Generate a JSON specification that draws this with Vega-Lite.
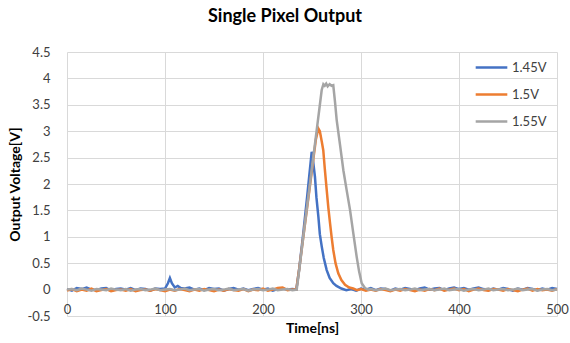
{
"$schema": "https://vega.github.io/schema/vega-lite/v6.json",
"width": 490, "height": 264,
"autosize": {"type": "none"},
"padding": {"left": 67, "top": 52, "right": 13, "bottom": 27},
"config": {"view": {"stroke": null}, "font": "Lato",
  "axis": {"gridColor": "#D9D9D9", "gridWidth": 1, "domain": false, "ticks": false, "labelColor": "#404040", "labelFontSize": 13, "titleFontSize": 14, "titleFontWeight": "bold", "titleColor": "#000000", "labelFont": "Lato", "titleFont": "Lato"}},
"title": {"text": "Single Pixel Output", "fontSize": 18, "fontWeight": "bold", "font": "Lato", "anchor": "middle", "dx": -27, "offset": 20, "color": "#000000"},
"data": {"values": [
{"s":"1.45V","t":0,"v":0.01},{"s":"1.45V","t":5,"v":-0.02},{"s":"1.45V","t":10,"v":0.03},{"s":"1.45V","t":15,"v":0.01},{"s":"1.45V","t":20,"v":0.04},{"s":"1.45V","t":25,"v":0.0},{"s":"1.45V","t":30,"v":-0.01},{"s":"1.45V","t":35,"v":0.02},{"s":"1.45V","t":40,"v":0.03},{"s":"1.45V","t":45,"v":-0.02},{"s":"1.45V","t":50,"v":0.01},{"s":"1.45V","t":55,"v":0.02},{"s":"1.45V","t":60,"v":0.0},{"s":"1.45V","t":65,"v":0.03},{"s":"1.45V","t":70,"v":-0.01},{"s":"1.45V","t":75,"v":0.02},{"s":"1.45V","t":80,"v":0.01},{"s":"1.45V","t":85,"v":-0.02},{"s":"1.45V","t":90,"v":0.02},{"s":"1.45V","t":95,"v":0.01},{"s":"1.45V","t":100,"v":0.02},{"s":"1.45V","t":103,"v":0.12},{"s":"1.45V","t":105,"v":0.22},{"s":"1.45V","t":107,"v":0.12},{"s":"1.45V","t":110,"v":0.04},{"s":"1.45V","t":113,"v":0.07},{"s":"1.45V","t":116,"v":0.03},{"s":"1.45V","t":120,"v":0.02},{"s":"1.45V","t":125,"v":0.04},{"s":"1.45V","t":130,"v":0.0},{"s":"1.45V","t":135,"v":0.02},{"s":"1.45V","t":140,"v":-0.01},{"s":"1.45V","t":145,"v":0.03},{"s":"1.45V","t":150,"v":0.01},{"s":"1.45V","t":155,"v":0.02},{"s":"1.45V","t":160,"v":-0.02},{"s":"1.45V","t":165,"v":0.01},{"s":"1.45V","t":170,"v":0.03},{"s":"1.45V","t":175,"v":0.0},{"s":"1.45V","t":180,"v":0.02},{"s":"1.45V","t":185,"v":-0.01},{"s":"1.45V","t":190,"v":0.01},{"s":"1.45V","t":195,"v":0.03},{"s":"1.45V","t":200,"v":0.0},{"s":"1.45V","t":205,"v":0.02},{"s":"1.45V","t":210,"v":-0.02},{"s":"1.45V","t":215,"v":0.01},{"s":"1.45V","t":220,"v":0.02},{"s":"1.45V","t":225,"v":0.0},{"s":"1.45V","t":230,"v":0.01},{"s":"1.45V","t":234,"v":0.0},
{"s":"1.45V","t":237,"v":0.4},{"s":"1.45V","t":241,"v":1.05},{"s":"1.45V","t":245,"v":1.75},{"s":"1.45V","t":248,"v":2.3},{"s":"1.45V","t":249.7,"v":2.61},{"s":"1.45V","t":251,"v":2.45},{"s":"1.45V","t":253,"v":2.14},{"s":"1.45V","t":254.5,"v":1.75},{"s":"1.45V","t":256.5,"v":1.38},{"s":"1.45V","t":258,"v":1.05},{"s":"1.45V","t":260,"v":0.81},{"s":"1.45V","t":262,"v":0.6},{"s":"1.45V","t":265,"v":0.37},{"s":"1.45V","t":268,"v":0.22},{"s":"1.45V","t":271.7,"v":0.12},{"s":"1.45V","t":275,"v":0.07},{"s":"1.45V","t":280,"v":0.02},{"s":"1.45V","t":285,"v":-0.01},{"s":"1.45V","t":290,"v":0.01},{"s":"1.45V","t":295,"v":-0.02},{"s":"1.45V","t":300,"v":0.02},
{"s":"1.45V","t":305,"v":0.0},{"s":"1.45V","t":310,"v":0.03},{"s":"1.45V","t":315,"v":-0.01},{"s":"1.45V","t":320,"v":0.02},{"s":"1.45V","t":325,"v":0.01},{"s":"1.45V","t":330,"v":-0.02},{"s":"1.45V","t":335,"v":0.02},{"s":"1.45V","t":340,"v":0.0},{"s":"1.45V","t":345,"v":0.03},{"s":"1.45V","t":350,"v":0.01},{"s":"1.45V","t":355,"v":-0.01},{"s":"1.45V","t":360,"v":0.02},{"s":"1.45V","t":365,"v":0.04},{"s":"1.45V","t":370,"v":0.0},{"s":"1.45V","t":375,"v":0.02},{"s":"1.45V","t":380,"v":0.03},{"s":"1.45V","t":385,"v":-0.01},{"s":"1.45V","t":390,"v":0.02},{"s":"1.45V","t":395,"v":0.04},{"s":"1.45V","t":400,"v":0.01},{"s":"1.45V","t":405,"v":0.03},{"s":"1.45V","t":410,"v":0.0},{"s":"1.45V","t":415,"v":0.02},{"s":"1.45V","t":420,"v":0.04},{"s":"1.45V","t":425,"v":0.01},{"s":"1.45V","t":430,"v":-0.01},{"s":"1.45V","t":435,"v":0.02},{"s":"1.45V","t":440,"v":0.0},{"s":"1.45V","t":445,"v":0.03},{"s":"1.45V","t":450,"v":0.01},{"s":"1.45V","t":455,"v":-0.02},{"s":"1.45V","t":460,"v":0.02},{"s":"1.45V","t":465,"v":0.0},{"s":"1.45V","t":470,"v":0.03},{"s":"1.45V","t":475,"v":0.01},{"s":"1.45V","t":480,"v":-0.01},{"s":"1.45V","t":485,"v":0.02},{"s":"1.45V","t":490,"v":0.0},{"s":"1.45V","t":495,"v":0.03},{"s":"1.45V","t":500,"v":0.01},
{"s":"1.5V","t":0,"v":-0.02},{"s":"1.5V","t":5,"v":0.01},{"s":"1.5V","t":10,"v":-0.03},{"s":"1.5V","t":15,"v":0.0},{"s":"1.5V","t":20,"v":-0.02},{"s":"1.5V","t":25,"v":0.02},{"s":"1.5V","t":30,"v":-0.03},{"s":"1.5V","t":35,"v":-0.01},{"s":"1.5V","t":40,"v":0.01},{"s":"1.5V","t":45,"v":-0.03},{"s":"1.5V","t":50,"v":-0.01},{"s":"1.5V","t":55,"v":0.0},{"s":"1.5V","t":60,"v":-0.02},{"s":"1.5V","t":65,"v":0.01},{"s":"1.5V","t":70,"v":-0.03},{"s":"1.5V","t":75,"v":-0.01},{"s":"1.5V","t":80,"v":0.0},{"s":"1.5V","t":85,"v":-0.02},{"s":"1.5V","t":90,"v":0.01},{"s":"1.5V","t":95,"v":-0.01},{"s":"1.5V","t":100,"v":-0.03},{"s":"1.5V","t":105,"v":0.0},{"s":"1.5V","t":110,"v":-0.02},{"s":"1.5V","t":115,"v":0.01},{"s":"1.5V","t":120,"v":-0.01},{"s":"1.5V","t":125,"v":-0.03},{"s":"1.5V","t":130,"v":0.0},{"s":"1.5V","t":135,"v":-0.02},{"s":"1.5V","t":140,"v":0.01},{"s":"1.5V","t":145,"v":-0.01},{"s":"1.5V","t":150,"v":-0.03},{"s":"1.5V","t":155,"v":0.0},{"s":"1.5V","t":160,"v":-0.02},{"s":"1.5V","t":165,"v":0.01},{"s":"1.5V","t":170,"v":-0.01},{"s":"1.5V","t":175,"v":-0.02},{"s":"1.5V","t":180,"v":0.01},{"s":"1.5V","t":185,"v":-0.03},{"s":"1.5V","t":190,"v":0.0},{"s":"1.5V","t":195,"v":-0.01},{"s":"1.5V","t":200,"v":0.02},{"s":"1.5V","t":205,"v":-0.02},{"s":"1.5V","t":210,"v":0.0},{"s":"1.5V","t":215,"v":0.03},{"s":"1.5V","t":220,"v":0.04},{"s":"1.5V","t":225,"v":-0.01},{"s":"1.5V","t":230,"v":0.0},{"s":"1.5V","t":234,"v":0.0},
{"s":"1.5V","t":237,"v":0.4},{"s":"1.5V","t":241,"v":0.98},{"s":"1.5V","t":245,"v":1.55},{"s":"1.5V","t":248,"v":1.98},{"s":"1.5V","t":251,"v":2.42},{"s":"1.5V","t":254,"v":2.85},{"s":"1.5V","t":256.5,"v":3.05},{"s":"1.5V","t":258,"v":3.0},{"s":"1.5V","t":260,"v":2.8},{"s":"1.5V","t":261.5,"v":2.64},{"s":"1.5V","t":263,"v":2.3},{"s":"1.5V","t":265,"v":1.89},{"s":"1.5V","t":266.7,"v":1.55},{"s":"1.5V","t":268.4,"v":1.26},{"s":"1.5V","t":270,"v":1.0},{"s":"1.5V","t":271.7,"v":0.75},{"s":"1.5V","t":274,"v":0.5},{"s":"1.5V","t":276.8,"v":0.31},{"s":"1.5V","t":280,"v":0.18},{"s":"1.5V","t":283.7,"v":0.09},{"s":"1.5V","t":288,"v":0.04},{"s":"1.5V","t":292,"v":0.02},{"s":"1.5V","t":296,"v":-0.01},{"s":"1.5V","t":300,"v":0.01},{"s":"1.5V","t":305,"v":-0.02},
{"s":"1.5V","t":310,"v":0.0},{"s":"1.5V","t":315,"v":-0.02},{"s":"1.5V","t":320,"v":0.01},{"s":"1.5V","t":325,"v":-0.01},{"s":"1.5V","t":330,"v":-0.03},{"s":"1.5V","t":335,"v":0.0},{"s":"1.5V","t":340,"v":-0.02},{"s":"1.5V","t":345,"v":0.01},{"s":"1.5V","t":350,"v":-0.01},{"s":"1.5V","t":355,"v":-0.03},{"s":"1.5V","t":360,"v":0.0},{"s":"1.5V","t":365,"v":-0.02},{"s":"1.5V","t":370,"v":0.01},{"s":"1.5V","t":375,"v":-0.01},{"s":"1.5V","t":380,"v":0.02},{"s":"1.5V","t":385,"v":-0.02},{"s":"1.5V","t":390,"v":0.0},{"s":"1.5V","t":395,"v":0.02},{"s":"1.5V","t":400,"v":-0.01},{"s":"1.5V","t":405,"v":0.01},{"s":"1.5V","t":410,"v":-0.03},{"s":"1.5V","t":415,"v":0.0},{"s":"1.5V","t":420,"v":0.02},{"s":"1.5V","t":425,"v":-0.01},{"s":"1.5V","t":430,"v":-0.02},{"s":"1.5V","t":435,"v":0.01},{"s":"1.5V","t":440,"v":0.0},{"s":"1.5V","t":445,"v":-0.02},{"s":"1.5V","t":450,"v":0.01},{"s":"1.5V","t":455,"v":-0.01},{"s":"1.5V","t":460,"v":-0.03},{"s":"1.5V","t":465,"v":0.0},{"s":"1.5V","t":470,"v":0.02},{"s":"1.5V","t":475,"v":-0.02},{"s":"1.5V","t":480,"v":0.01},{"s":"1.5V","t":485,"v":-0.01},{"s":"1.5V","t":490,"v":0.0},{"s":"1.5V","t":495,"v":-0.02},{"s":"1.5V","t":500,"v":0.01},
{"s":"1.55V","t":0,"v":0.0},{"s":"1.55V","t":5,"v":0.01},{"s":"1.55V","t":10,"v":-0.01},{"s":"1.55V","t":15,"v":0.02},{"s":"1.55V","t":20,"v":0.0},{"s":"1.55V","t":25,"v":-0.02},{"s":"1.55V","t":30,"v":0.01},{"s":"1.55V","t":35,"v":0.0},{"s":"1.55V","t":40,"v":-0.01},{"s":"1.55V","t":45,"v":0.02},{"s":"1.55V","t":50,"v":0.0},{"s":"1.55V","t":55,"v":-0.01},{"s":"1.55V","t":60,"v":0.01},{"s":"1.55V","t":65,"v":-0.02},{"s":"1.55V","t":70,"v":0.0},{"s":"1.55V","t":75,"v":0.01},{"s":"1.55V","t":80,"v":-0.01},{"s":"1.55V","t":85,"v":0.0},{"s":"1.55V","t":90,"v":0.02},{"s":"1.55V","t":95,"v":-0.01},{"s":"1.55V","t":100,"v":0.0},{"s":"1.55V","t":105,"v":0.01},{"s":"1.55V","t":110,"v":-0.01},{"s":"1.55V","t":115,"v":0.0},{"s":"1.55V","t":120,"v":0.02},{"s":"1.55V","t":125,"v":-0.01},{"s":"1.55V","t":130,"v":0.0},{"s":"1.55V","t":135,"v":0.01},{"s":"1.55V","t":140,"v":-0.02},{"s":"1.55V","t":145,"v":0.0},{"s":"1.55V","t":150,"v":0.01},{"s":"1.55V","t":155,"v":-0.01},{"s":"1.55V","t":160,"v":0.0},{"s":"1.55V","t":165,"v":0.02},{"s":"1.55V","t":170,"v":-0.01},{"s":"1.55V","t":175,"v":0.0},{"s":"1.55V","t":180,"v":0.01},{"s":"1.55V","t":185,"v":-0.02},{"s":"1.55V","t":190,"v":0.0},{"s":"1.55V","t":195,"v":0.01},{"s":"1.55V","t":200,"v":-0.01},{"s":"1.55V","t":205,"v":0.0},{"s":"1.55V","t":210,"v":0.02},{"s":"1.55V","t":215,"v":-0.01},{"s":"1.55V","t":220,"v":0.0},{"s":"1.55V","t":225,"v":0.01},{"s":"1.55V","t":230,"v":-0.01},{"s":"1.55V","t":234.4,"v":0.0},
{"s":"1.55V","t":237,"v":0.38},{"s":"1.55V","t":241.1,"v":1.0},{"s":"1.55V","t":244.5,"v":1.5},{"s":"1.55V","t":248,"v":2.01},{"s":"1.55V","t":251.4,"v":2.52},{"s":"1.55V","t":254.8,"v":3.02},{"s":"1.55V","t":257.5,"v":3.42},{"s":"1.55V","t":259.9,"v":3.78},{"s":"1.55V","t":261.6,"v":3.89},{"s":"1.55V","t":263,"v":3.86},{"s":"1.55V","t":264.5,"v":3.9},{"s":"1.55V","t":266,"v":3.85},{"s":"1.55V","t":268,"v":3.89},{"s":"1.55V","t":270,"v":3.86},{"s":"1.55V","t":271.7,"v":3.87},{"s":"1.55V","t":273.5,"v":3.55},{"s":"1.55V","t":275.2,"v":3.21},{"s":"1.55V","t":278.6,"v":2.74},{"s":"1.55V","t":282,"v":2.26},{"s":"1.55V","t":285.4,"v":1.88},{"s":"1.55V","t":288.8,"v":1.51},{"s":"1.55V","t":292.2,"v":1.06},{"s":"1.55V","t":295.6,"v":0.62},{"s":"1.55V","t":298,"v":0.35},{"s":"1.55V","t":300.7,"v":0.12},{"s":"1.55V","t":304,"v":0.03},{"s":"1.55V","t":307.5,"v":0.0},
{"s":"1.55V","t":310,"v":0.01},{"s":"1.55V","t":315,"v":-0.01},{"s":"1.55V","t":320,"v":0.0},{"s":"1.55V","t":325,"v":0.02},{"s":"1.55V","t":330,"v":-0.01},{"s":"1.55V","t":335,"v":0.0},{"s":"1.55V","t":340,"v":0.01},{"s":"1.55V","t":345,"v":-0.01},{"s":"1.55V","t":350,"v":0.0},{"s":"1.55V","t":355,"v":0.02},{"s":"1.55V","t":360,"v":-0.01},{"s":"1.55V","t":365,"v":0.0},{"s":"1.55V","t":370,"v":0.01},{"s":"1.55V","t":375,"v":-0.01},{"s":"1.55V","t":380,"v":0.0},{"s":"1.55V","t":385,"v":0.02},{"s":"1.55V","t":390,"v":-0.01},{"s":"1.55V","t":395,"v":0.0},{"s":"1.55V","t":400,"v":0.01},{"s":"1.55V","t":405,"v":-0.02},{"s":"1.55V","t":410,"v":0.0},{"s":"1.55V","t":415,"v":0.01},{"s":"1.55V","t":420,"v":-0.01},{"s":"1.55V","t":425,"v":0.0},{"s":"1.55V","t":430,"v":0.02},{"s":"1.55V","t":435,"v":-0.01},{"s":"1.55V","t":440,"v":0.0},{"s":"1.55V","t":445,"v":0.01},{"s":"1.55V","t":450,"v":-0.01},{"s":"1.55V","t":455,"v":0.0},{"s":"1.55V","t":460,"v":0.02},{"s":"1.55V","t":465,"v":-0.01},{"s":"1.55V","t":470,"v":0.0},{"s":"1.55V","t":475,"v":0.01},{"s":"1.55V","t":480,"v":-0.02},{"s":"1.55V","t":485,"v":0.0},{"s":"1.55V","t":490,"v":0.01},{"s":"1.55V","t":495,"v":-0.01},{"s":"1.55V","t":500,"v":0.0}
]},
"encoding": {
  "x": {"field": "t", "type": "quantitative", "scale": {"domain": [0, 500], "nice": false},
        "axis": {"values": [0,100,200,300,400,500], "title": "Time[ns]", "labelPadding": -13, "titlePadding": 5, "labelFlush": false}},
  "y": {"field": "v", "type": "quantitative", "scale": {"domain": [-0.5, 4.5], "nice": false, "zero": false},
        "axis": {"values": [-0.5,0,0.5,1,1.5,2,2.5,3,3.5,4,4.5], "labelExpr": "'' + datum.value", "title": "Output Voltage[V]", "labelPadding": 17, "titlePadding": 5}},
  "color": {"field": "s", "type": "nominal", "scale": {"domain": ["1.45V", "1.5V", "1.55V"], "range": ["#4472C4", "#ED7D31", "#A5A5A5"]},
        "legend": {"title": null, "orient": "none", "legendX": 407, "legendY": -2, "symbolType": "stroke", "symbolSize": 1000, "symbolStrokeWidth": 2.5, "labelFontSize": 13, "labelColor": "#404040", "labelFont": "Lato", "rowPadding": 2, "labelOffset": 3}}
},
"layer": [
  {"transform": [{"filter": "datum.s == '1.45V'"}], "mark": {"type": "line", "strokeWidth": 2.5, "interpolate": "linear"}},
  {"transform": [{"filter": "datum.s == '1.5V'"}], "mark": {"type": "line", "strokeWidth": 2.5, "interpolate": "linear"}},
  {"transform": [{"filter": "datum.s == '1.55V'"}], "mark": {"type": "line", "strokeWidth": 2.5, "interpolate": "linear"}}
]
}
